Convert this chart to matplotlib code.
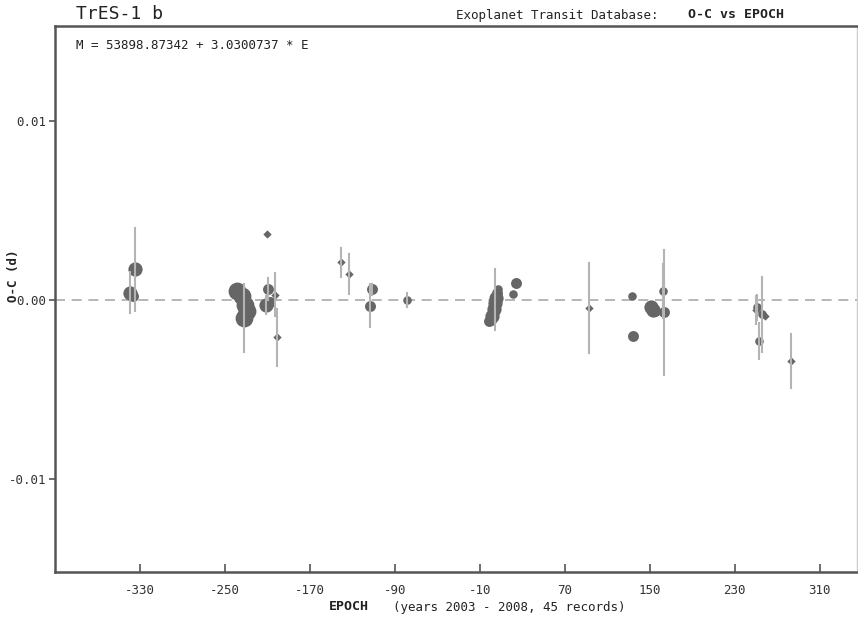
import matplotlib
matplotlib.use("Agg")
import matplotlib.pyplot as plt
import numpy as np

# TrES-1 b transit timings, O-C residuals against ephemeris
epoch = [-339, -334.5, -238, -234, -231, -232, -210, -209, -211, -202.5, -200.5,
         -140.5, -133, -111.5, -113.5, -78.5,
         6.5, 5.5, 4.5, 3.5, 2, 0.5, -1.5, 4.5, 24.5, 21.5,
         93, 133.5, 134.5, 153, 163.5, 162, 151,
         249.5, 251, 256, 253, 282.5,
         -336, -229, 7, 1.5, 155, 258, -207]
oc = [0.0004, 0.0017, 0.0005, 0.0002, -0.0003, -0.0010, 0.0037, 0.0006, -0.0003, 0.0003, -0.0021,
      0.0021, 0.00145, 0.0006, -0.00033, 0.0000,
      0.0004, 0.0001, -0.0002, -0.0005, -0.0008, -0.0011, -0.0012, 0.0000, 0.00095, 0.00033,
      -0.00045, 0.00022, -0.0020, -0.00056, -0.0007, 0.0005, -0.0004,
      -0.00056, -0.0004, -0.0008, -0.0023, -0.0034,
      0.0002, -0.0006, 0.0006, -0.0009, -0.0006, -0.0009, -0.0001]
err = [0.00115, 0.0023, 0.0, 0.0, 0.0, 0.0019, 0.0, 0.0006, 0.0005, 0.0012, 0.0016,
       0.0008, 0.0011, 0.0003, 0.0012, 0.0004,
       0.0, 0.0, 0.0, 0.0, 0.0, 0.0, 0.0, 0.0017, 0.0, 0.0,
       0.0025, 0.0, 0.0, 0.0, 0.0035, 0.0015, 0.0,
       0.0008, 0.0007, 0.0021, 0.001, 0.0015,
       0.0, 0.0, 0.0, 0.0, 0.0, 0.0, 0.0]
dq = [2, 2, 1, 1, 1, 1, 5, 3, 2, 5, 5,
      5, 5, 3, 3, 4,
      3, 2, 2, 2, 3, 3, 3, 5, 3, 4,
      5, 4, 3, 2, 3, 4, 2,
      5, 4, 4, 4, 5,
      3, 1, 4, 2, 3, 5, 3]

xticks = [-330, -250, -170, -90, -10, 70, 150, 230, 310]
yticks = [-0.01, 0.0, 0.01]
yticklabels = ["-0.01", "0.00", "0.01"]

mono = "DejaVu Sans Mono"
dark = "#555555"
pt_col = "#666666"
bar_col = "#b4b4b4"

fig = plt.figure(figsize=(8.58, 6.21), dpi=100)
ax = fig.add_axes([55 / 858, 49 / 621, 802 / 858, 546 / 621])

ax.set_xlim(-409.7, 345)
ax.set_ylim(-0.0152, 0.0153)

ax.axhline(0, color="#aaaaaa", lw=1.2, ls=(0, (6, 4)), zorder=1)

# symbol size by data quality, the lowest quality drawn as diamonds
sizes = {1: 165, 2: 105, 3: 62, 4: 38}
for d in [1, 2, 3, 4]:
    xs = [e for e, q in zip(epoch, dq) if q == d]
    ys = [v for v, q in zip(oc, dq) if q == d]
    ax.scatter(xs, ys, s=sizes[d], marker="o", color=pt_col, linewidths=0, zorder=2)
xs = [e for e, q in zip(epoch, dq) if q == 5]
ys = [v for v, q in zip(oc, dq) if q == 5]
ax.scatter(xs, ys, s=18, marker="D", color=pt_col, linewidths=0, zorder=2)

for e, v, s in zip(epoch, oc, err):
    if s > 0:
        ax.plot([e, e], [v - s, v + s], color=bar_col, lw=1.5, zorder=3)

ax.set_xticks(xticks)
ax.set_xticklabels([str(t) for t in xticks], family=mono, fontsize=9, color="#333333")
ax.set_yticks(yticks)
ax.set_yticklabels(yticklabels, family=mono, fontsize=9, color="#333333")
ax.tick_params(axis="x", direction="in", length=6, width=1.2, color=dark, pad=9)
ax.tick_params(axis="y", direction="out", length=4, width=1.2, color=dark, pad=2)

for side in ["left", "bottom", "top"]:
    ax.spines[side].set_color(dark)
    ax.spines[side].set_linewidth(1.8)
ax.spines["right"].set_color("#cccccc")
ax.spines["right"].set_linewidth(1)

ax.text(0.026, 0.965, "M = 53898.87342 + 3.0300737 * E", transform=ax.transAxes,
        family=mono, fontsize=9, color="#222222", va="center", ha="left")

fig.text(76 / 858, 1 - 14 / 621, "TrES-1 b", family=mono, fontsize=13,
         color="#222222", va="center", ha="left")
fig.text(456 / 858, 1 - 15 / 621, "Exoplanet Transit Database:", family=mono,
         fontsize=9, color="#222222", va="center", ha="left")
fig.text(688 / 858, 1 - 15 / 621, "O-C vs EPOCH", family=mono, fontsize=9.5,
         weight="bold", color="#222222", va="center", ha="left")

fig.text(329 / 858, 1 - 607 / 621, "EPOCH", family=mono, fontsize=9.5,
         weight="bold", color="#222222", va="center", ha="left")
fig.text(393 / 858, 1 - 607 / 621, "(years 2003 - 2008, 45 records)", family=mono,
         fontsize=9, color="#222222", va="center", ha="left")

fig.text(13 / 858, 1 - 276 / 621, "O-C (d)", family=mono, fontsize=9,
         weight="bold", color="#222222", va="center", ha="center", rotation=90)

fig.savefig("out.png", dpi=100, facecolor="white")
